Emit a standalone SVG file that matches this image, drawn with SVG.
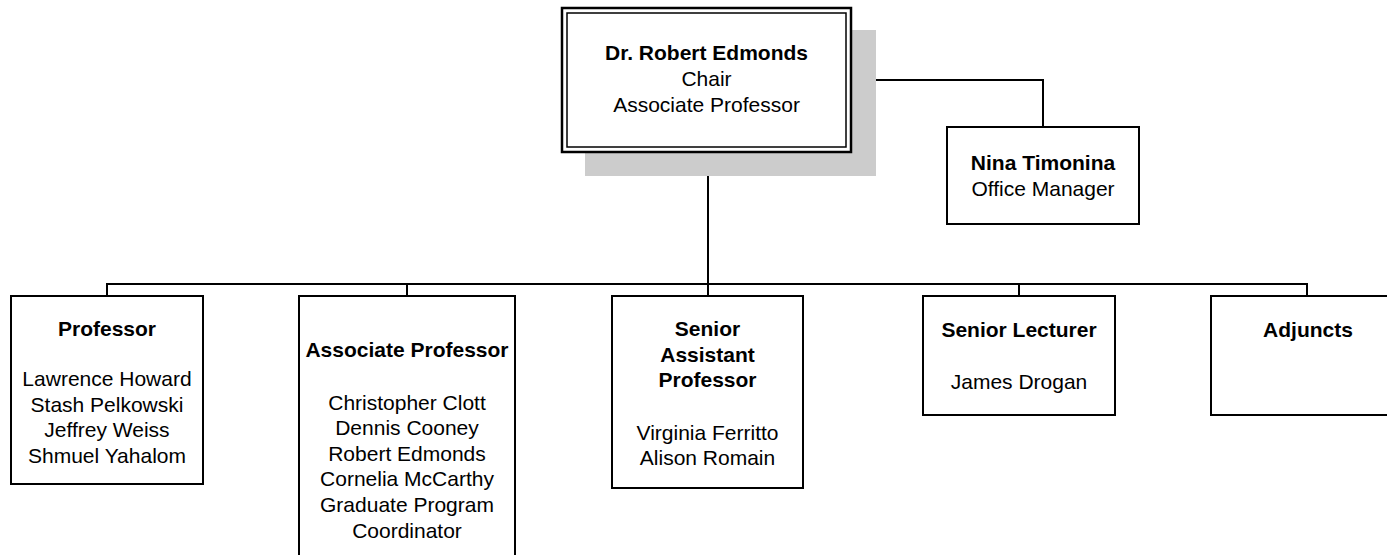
<svg xmlns="http://www.w3.org/2000/svg" width="1387" height="555" viewBox="0 0 1387 555">
<style>
.box{fill:#fff;stroke:#000;stroke-width:2}
.t{font-family:"Liberation Sans",Arial,sans-serif;font-size:21px;fill:#000;text-anchor:middle}
.b{font-weight:bold}
.c{fill:none;stroke:#000;stroke-width:2}
</style>
<rect width="1387" height="555" fill="#fff"/>
<g id="connectors">
<polyline class="c" points="851,80 1043,80 1043,127"/>
<line class="c" x1="708" y1="152" x2="708" y2="284"/>
<line class="c" x1="106" y1="284" x2="1308" y2="284"/>
<line class="c" x1="107" y1="284" x2="107" y2="296"/>
<line class="c" x1="407" y1="284" x2="407" y2="296"/>
<line class="c" x1="708" y1="284" x2="708" y2="296"/>
<line class="c" x1="1019" y1="284" x2="1019" y2="296"/>
<line class="c" x1="1307" y1="284" x2="1307" y2="296"/>
</g>
<g id="chair">
<rect x="585" y="30" width="291" height="146" fill="#cccccc"/>
<rect x="562" y="8" width="289" height="144" fill="#fff" stroke="#000" stroke-width="2.5"/>
<rect x="567" y="13" width="279" height="134" fill="none" stroke="#000" stroke-width="1.5"/>
<text class="t b" x="706.5" y="60">Dr. Robert Edmonds</text>
<text class="t" x="706.5" y="86">Chair</text>
<text class="t" x="706.5" y="111.5">Associate Professor</text>
</g>
<g id="office-manager">
<rect class="box" x="947" y="127" width="192" height="97"/>
<text class="t b" x="1043" y="170">Nina Timonina</text>
<text class="t" x="1043" y="195.5">Office Manager</text>
</g>
<g id="professor">
<rect class="box" x="11" y="296" width="192" height="188"/>
<text class="t b" x="107" y="336">Professor</text>
<text class="t" x="107" y="386">Lawrence Howard</text>
<text class="t" x="107" y="411.5">Stash Pelkowski</text>
<text class="t" x="107" y="437">Jeffrey Weiss</text>
<text class="t" x="107" y="463">Shmuel Yahalom</text>
</g>
<g id="associate-professor">
<rect class="box" x="299" y="296" width="216" height="270"/>
<text class="t b" x="407" y="357">Associate Professor</text>
<text class="t" x="407" y="409.5">Christopher Clott</text>
<text class="t" x="407" y="435">Dennis Cooney</text>
<text class="t" x="407" y="460.7">Robert Edmonds</text>
<text class="t" x="407" y="486.3">Cornelia McCarthy</text>
<text class="t" x="407" y="512">Graduate Program</text>
<text class="t" x="407" y="537.6">Coordinator</text>
</g>
<g id="senior-assistant-professor">
<rect class="box" x="612" y="296" width="191" height="192"/>
<text class="t b" x="707.5" y="336">Senior</text>
<text class="t b" x="707.5" y="361.5">Assistant</text>
<text class="t b" x="707.5" y="387">Professor</text>
<text class="t" x="707.5" y="440">Virginia Ferritto</text>
<text class="t" x="707.5" y="465">Alison Romain</text>
</g>
<g id="senior-lecturer">
<rect class="box" x="923" y="296" width="192" height="119"/>
<text class="t b" x="1019" y="337">Senior Lecturer</text>
<text class="t" x="1019" y="388.5">James Drogan</text>
</g>
<g id="adjuncts">
<rect class="box" x="1211" y="296" width="200" height="119"/>
<text class="t b" x="1308" y="337">Adjuncts</text>
</g>
</svg>
